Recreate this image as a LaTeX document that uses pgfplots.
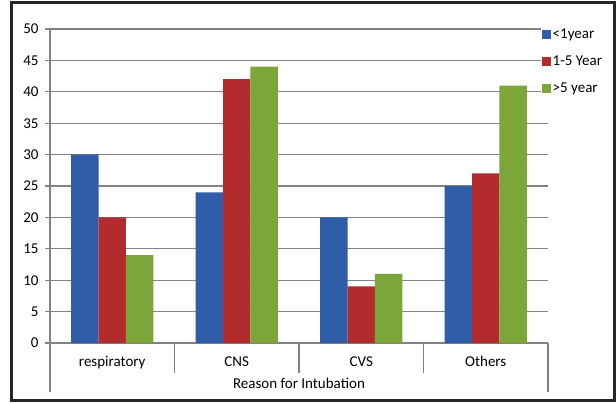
\documentclass[border=0pt]{standalone}
\usepackage{fontspec}
\setmainfont{Carlito}
\usepackage{pgfplots}
\pgfplotsset{compat=1.18}
\definecolor{bblue}{RGB}{47,93,167}
\definecolor{bred}{RGB}{178,44,46}
\definecolor{bgreen}{RGB}{124,166,58}
\definecolor{gline}{RGB}{130,130,130}
\begin{document}
\begin{tikzpicture}[font=\fontsize{15}{18}\selectfont]
\useasboundingbox (-50pt,-59pt) rectangle (566pt,343pt);
\fill[white] (-50pt,-59pt) rectangle (566pt,343pt);
\begin{axis}[
    scale only axis,
    width=498pt,
    height=314pt,
    clip=false,
    ybar=0pt,
    bar width=0.22,
    xmin=-0.5, xmax=3.5,
    ymin=0, ymax=50,
    ytick={0,5,...,50},
    xtick={0,1,2,3},
    xticklabels={respiratory,CNS,CVS,Others},
    axis lines*=left,
    axis line style={gline,line width=1.3pt,-},
    ymajorgrids,
    grid style={gline,line width=1.3pt},
    x tick style={draw=none},
    y tick style={gline,line width=1.3pt},
    tick align=outside,
    major tick length=5pt,
    /pgf/number format/assume math mode=true,
    ticklabel style={font=\fontsize{15}{18}\selectfont},
    yticklabel style={xshift=-3pt},
    xticklabel style={yshift=-5pt},
    xlabel={Reason for Intubation},
    xlabel style={at={(axis description cs:0.5,0)},anchor=center,yshift=-40pt},
    legend style={at={(0.985,1.012)},anchor=north west,draw=none,fill=white,
        font=\fontsize{15}{18}\selectfont,row sep=12pt,inner sep=1pt},
    legend cell align=left,
    legend image code/.code={\fill[#1] (0pt,-4.5pt) rectangle (9pt,4.5pt);},
]
\addplot[fill=bblue,draw=none] coordinates {(0,30) (1,24) (2,20) (3,25)};
\addlegendentry{<1year}
\addplot[fill=bred,draw=none] coordinates {(0,20) (1,42) (2,9) (3,27)};
\addlegendentry{1-5 Year}
\addplot[fill=bgreen,draw=none] coordinates {(0,14) (1,44) (2,11) (3,41)};
\addlegendentry{>5 year}
\draw[gline,line width=1.3pt] (axis cs:-0.5,0) -- ++(0pt,-49pt);
\draw[gline,line width=1.3pt] (axis cs:0.5,0) -- ++(0pt,-30pt);
\draw[gline,line width=1.3pt] (axis cs:1.5,0) -- ++(0pt,-30pt);
\draw[gline,line width=1.3pt] (axis cs:2.5,0) -- ++(0pt,-30pt);
\draw[gline,line width=1.3pt] (axis cs:3.5,0) -- ++(0pt,-49pt);
\end{axis}
\draw[line width=3pt,black!85] (-38pt,-57pt) rectangle (564pt,340pt);
\end{tikzpicture}
\end{document}
